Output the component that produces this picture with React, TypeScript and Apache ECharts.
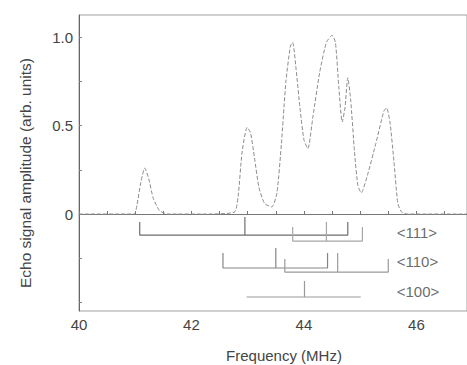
import React, { useEffect, useRef } from "react";
import * as echarts from "echarts";

// Echo spectrum (frequency in MHz, amplitude in arb. units)
const freq = [
  40.0, 40.98, 41.03, 41.1, 41.17, 41.24, 41.32, 41.43, 41.58, 42.2, 42.76, 42.83, 42.9, 42.99, 43.05,
  43.12, 43.2, 43.3, 43.43, 43.52, 43.6, 43.68, 43.76, 43.8, 43.86, 43.93, 44.0, 44.07, 44.16, 44.28,
  44.4, 44.5, 44.56, 44.62, 44.68, 44.73, 44.78, 44.83, 44.9, 44.96, 45.02, 45.13, 45.28, 45.42, 45.47,
  45.53, 45.6, 45.67, 45.74, 45.85, 46.9,
];
const amp = [
  0, 0, 0.05, 0.18, 0.26, 0.2, 0.09, 0.02, 0, 0, 0.01, 0.1, 0.35, 0.49, 0.46,
  0.32, 0.15, 0.06, 0.04, 0.12, 0.4, 0.75, 0.95, 0.97, 0.82, 0.6, 0.42, 0.37, 0.55, 0.8,
  0.97, 1.01, 0.97, 0.72, 0.52, 0.6, 0.77, 0.65, 0.35, 0.16, 0.12, 0.22, 0.4, 0.58, 0.6,
  0.52, 0.3, 0.06, 0.01, 0, 0,
];

// Stick diagrams (brackets): left / centre / right line positions
const bracketLeft = [41.08, 43.8, 42.56, 43.66, 42.98];
const bracketCenter = [42.95, 44.4, 43.5, 44.6, 44.01];
const bracketRight = [44.78, 45.04, 44.42, 45.5, 45.01];
const bracketBase = [-0.119, -0.153, -0.305, -0.328, -0.469];
const bracketEndTop = [-0.045, -0.073, -0.22, -0.254, -0.469];
const bracketCenterTop = [-0.017, -0.045, -0.192, -0.22, -0.379];

const rowLabels = ["<111>", "<110>", "<100>"];
const rowLabelX = [45.65, 45.65, 45.65];
const rowLabelY = [-0.102, -0.271, -0.44];

const xLabelValues = [40, 42, 44, 46];
const xTickValues = [40, 40.5, 41, 41.5, 42, 42.5, 43, 43.5, 44, 44.5, 45, 45.5, 46, 46.5];
const yLabelValues = [0, 0.5, 1.0];
const yTickValues = [-0.5, -0.25, 0, 0.25, 0.5, 0.75, 1.0];

const bracketColors = ["#6e6e6e", "#a6a6a6", "#858585", "#9a9a9a", "#9a9a9a"];
const FONT = "Liberation Sans, Arial, sans-serif";

export default function App() {
  const ref = useRef<HTMLDivElement>(null);

  useEffect(() => {
    if (!ref.current) return;
    const chart = echarts.init(ref.current, undefined, { renderer: "svg" });

    const series: any[] = [
      {
        type: "line",
        data: freq.map((f, i) => [f, amp[i]]),
        showSymbol: false,
        symbol: "none",
        smooth: 0.2,
        lineStyle: { color: "#8c8c8c", width: 1, type: [4, 2] },
        silent: true,
        z: 3,
      },
    ];

    bracketLeft.forEach((l, i) => {
      const r = bracketRight[i];
      const c = bracketCenter[i];
      const b = bracketBase[i];
      series.push({
        type: "line",
        data: [
          [l, bracketEndTop[i]],
          [l, b],
          [r, b],
          [r, bracketEndTop[i]],
        ],
        symbol: "none",
        lineStyle: { color: bracketColors[i], width: 1.2 },
        silent: true,
        z: 4,
      });
      series.push({
        type: "line",
        data: [
          [c, b],
          [c, bracketCenterTop[i]],
        ],
        symbol: "none",
        lineStyle: { color: bracketColors[i], width: 1.2 },
        silent: true,
        z: 4,
      });
    });

    series.push({
      type: "scatter",
      symbolSize: 0,
      silent: true,
      data: rowLabels.map((n, i) => ({ name: n, value: [rowLabelX[i], rowLabelY[i]] })),
      label: {
        show: true,
        formatter: "{b}",
        position: "inside",
        align: "left",
        verticalAlign: "middle",
        color: "#444",
        fontSize: 15,
        fontFamily: FONT,
      },
    });

    chart.setOption({
      animation: false,
      backgroundColor: "#ffffff",
      grid: {
        left: 79,
        top: 15,
        right: 0,
        bottom: 54,
        show: true,
        borderColor: "#a0a0a0",
        borderWidth: 1,
        backgroundColor: "transparent",
      },
      xAxis: {
        type: "value",
        min: 40,
        max: 46.9,
        axisLine: { show: true, lineStyle: { color: "#777", width: 1 } },
        axisTick: {
          show: true,
          inside: true,
          length: 3,
          customValues: xTickValues,
          lineStyle: { color: "#777" },
        },
        axisLabel: {
          customValues: xLabelValues,
          formatter: (v: number) => String(v),
          color: "#444",
          fontSize: 15,
          fontFamily: FONT,
          margin: 6,
        },
        splitLine: { show: false },
      },
      yAxis: {
        type: "value",
        min: -0.548,
        max: 1.125,
        axisLine: { show: true, lineStyle: { color: "#666", width: 1 } },
        axisTick: {
          show: true,
          inside: true,
          length: 3,
          customValues: yTickValues,
          lineStyle: { color: "#888" },
        },
        axisLabel: {
          customValues: yLabelValues,
          formatter: (v: number) => (v === 0 ? "0" : v.toFixed(1)),
          color: "#444",
          fontSize: 15,
          fontFamily: FONT,
          margin: 6,
        },
        splitLine: { show: false },
      },
      graphic: [
        {
          type: "text",
          x: 25,
          y: 173,
          rotation: Math.PI / 2,
          style: {
            text: "Echo signal amplitude (arb. units)",
            fill: "#444",
            fontSize: 15.5,
            fontFamily: FONT,
            align: "center",
            verticalAlign: "middle",
          },
        },
        {
          type: "text",
          x: 284,
          y: 355,
          style: {
            text: "Frequency (MHz)",
            fill: "#444",
            fontSize: 15,
            fontFamily: FONT,
            align: "center",
            verticalAlign: "middle",
          },
        },
      ],
      series,
    });

    return () => chart.dispose();
  }, []);

  return <div ref={ref} style={{ width: 467, height: 365, position: "absolute", left: 0, top: 0 }} />;
}
